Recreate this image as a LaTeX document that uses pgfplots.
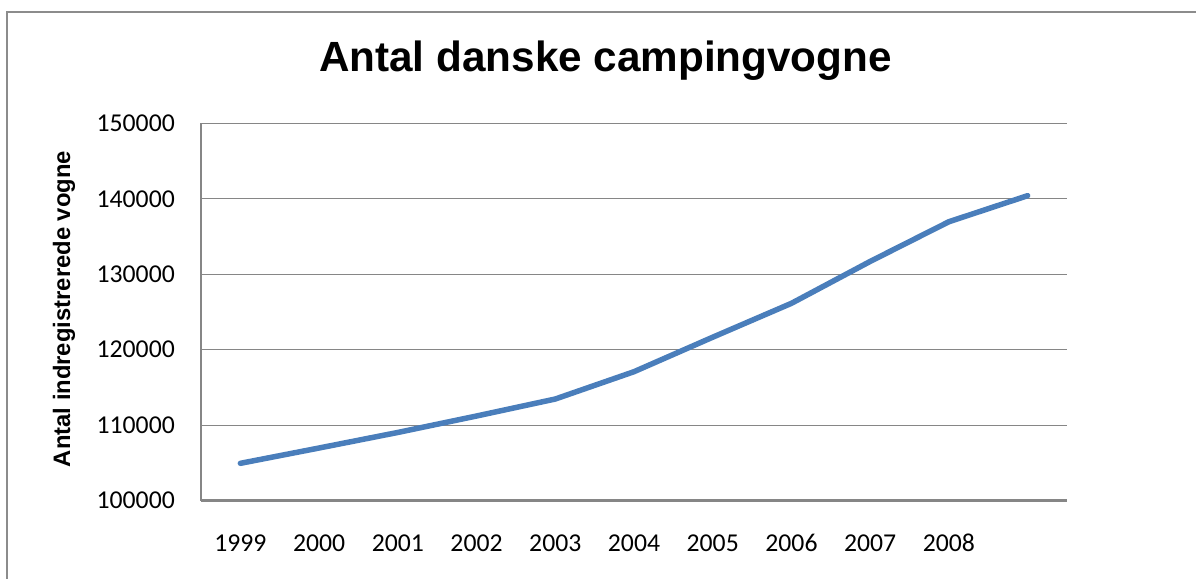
\documentclass[border=0pt]{standalone}
\usepackage{pgfplots}
\pgfplotsset{compat=1.18}
\usepackage{fontspec}
\setmainfont{Carlito}
\newfontfamily\arialfont{Liberation Sans}
\definecolor{linblue}{HTML}{4A7EBB}
\definecolor{axgray}{HTML}{868686}
\definecolor{frgray}{HTML}{8C8C8C}
\begin{document}
\begin{tikzpicture}[x=1bp,y=1bp]
\path[use as bounding box] (0,0) rectangle (1196,579);
\draw[frgray, line width=2bp] (7,-5) -- (7,567) -- (1200,567);
\begin{axis}[
  at={(201bp,78.3bp)}, anchor=south west,
  width=866bp, height=377.4bp, scale only axis,
  xmin=-0.5, xmax=10.5, ymin=100000, ymax=150000,
  xtick={0,...,9},
  xticklabels={1999,2000,2001,2002,2003,2004,2005,2006,2007,2008},
  ytick={100000,110000,120000,130000,140000,150000},
  yticklabels={100000,110000,120000,130000,140000,150000},
  scaled y ticks=false,
  major tick length=0pt,
  separate axis lines,
  axis x line*=bottom, axis y line*=left,
  x axis line style={-, draw=axgray, line width=2.5bp},
  y axis line style={-, draw=axgray, line width=1.5bp},
  ymajorgrids, grid style={draw=axgray, line width=1.4bp},
  ticklabel style={font=\fontsize{25.8}{30}\selectfont},
  xticklabel style={inner sep=0pt, anchor=base, yshift=-50.5bp},
  yticklabel style={inner sep=0pt, anchor=east, xshift=-26bp},
  clip=false,
]
\addplot[linblue, line width=5.5bp, line join=round, line cap=round] coordinates {
(0,104950) (1,106980) (2,109040) (3,111220) (4,113470) (5,117090)
(6,121660) (7,126150) (8,131700) (9,136960) (10,140410)};
\end{axis}
\node[anchor=base, font=\arialfont\bfseries\fontsize{42.4}{50}\selectfont, inner sep=0pt] at (605.5,507.3) {Antal danske campingvogne};
\node[rotate=90, font=\arialfont\bfseries\fontsize{23.9}{28}\selectfont, inner sep=0pt] at (64,270) {Antal indregistrerede vogne};
\end{tikzpicture}
\end{document}
